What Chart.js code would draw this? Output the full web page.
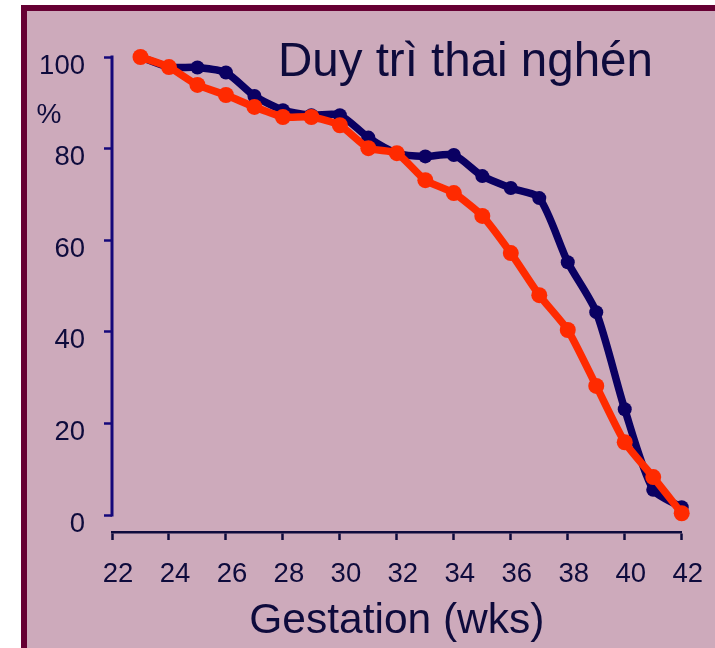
<!DOCTYPE html>
<html>
<head>
<meta charset="utf-8">
<title>Duy trì thai nghén</title>
<script src="https://cdn.jsdelivr.net/npm/chart.js@4.4.0/dist/chart.umd.min.js"></script>
<style>
	html, body { margin: 0; padding: 0; background: #fff; }
</style>
</head>
<body>
<canvas id="myChart" width="715" height="648"></canvas>
<script>
// dữ liệu (tuần thai, % còn mang thai)
const weeks = [23, 24, 25, 26, 27, 28, 29, 30, 31, 32, 33, 34, 35, 36, 37, 38, 39, 40, 41, 42];
const blueValues = [100, 97.8, 97.7, 96.6, 91.5, 88.4, 87.3, 87.3, 82.4, 79.0, 78.3, 78.6, 74.0, 71.4, 69.2, 55.2, 44.3, 23.1, 5.5, 1.7];
const redValues = [100, 97.8, 93.9, 91.7, 89.1, 86.9, 86.9, 85.1, 80.1, 79.0, 73.1, 70.3, 65.3, 57.2, 48.0, 40.4, 28.2, 15.9, 8.3, 0.4];
const xTicks = [22, 24, 26, 28, 30, 32, 34, 36, 38, 40, 42];
const yTicks = [0, 20, 40, 60, 80, 100];

const titleText = 'Duy trì thai nghén';
const yLabel = '%';
const xLabel = 'Gestation (wks)';

const textColor = '#0e0b3c';
const font = 'Liberation Sans, Arial, sans-serif';

// nền hồng với viền đỏ sẫm, trục y, tiêu đề
const decor = {
	id: 'decor',
	beforeDraw(chart) {
		const c = chart.ctx;
		c.save();
		c.fillStyle = '#ffffff';
		c.fillRect(0, 0, chart.width, chart.height);
		c.fillStyle = '#660033';
		c.fillRect(21, 5, chart.width, chart.height);
		c.fillStyle = '#cdaabb';
		c.fillRect(27, 11, chart.width, chart.height);
		c.restore();
	},
	beforeDatasetsDraw(chart) {
		const c = chart.ctx;
		const y = chart.scales.y;
		c.save();
		c.strokeStyle = '#14087a';
		c.lineWidth = 3;
		c.beginPath();
		c.moveTo(chart.chartArea.left, y.getPixelForValue(100) - 1.5);
		c.lineTo(chart.chartArea.left, y.getPixelForValue(0) + 1.5);
		c.stroke();
		c.restore();
	},
	afterDraw(chart) {
		const c = chart.ctx;
		c.save();
		c.fillStyle = textColor;
		c.font = '47.5px ' + font;
		c.textAlign = 'left';
		c.textBaseline = 'alphabetic';
		c.fillText(titleText, 278, 76);
		c.font = '28px ' + font;
		c.textAlign = 'center';
		c.textBaseline = 'middle';
		c.fillText(yLabel, 49, 115);
		c.restore();
	}
};

var ctx = document.getElementById('myChart').getContext('2d');
var chart = new Chart(ctx, {
	type: 'line',
	data: {
		labels: weeks,
		datasets: [{
			label: 'A',
			data: weeks.map((w, i) => ({ x: w, y: blueValues[i] })),
			borderColor: '#0a0062',
			backgroundColor: '#0a0062',
			borderWidth: 7.5,
			pointRadius: 7,
			pointBorderWidth: 0,
			tension: 0.25,
			clip: false,
			order: 2
		}, {
			label: 'B',
			data: weeks.map((w, i) => ({ x: w, y: redValues[i] })),
			borderColor: '#ff2a00',
			backgroundColor: '#ff2a00',
			borderWidth: 7.5,
			pointRadius: 8,
			pointBorderWidth: 0,
			tension: 0.2,
			clip: false,
			order: 1
		}]
	},
	options: {
		responsive: false,
		animation: false,
		layout: { padding: { top: 57, right: 32, left: 0, bottom: 0 } },
		plugins: {
			legend: { display: false },
			tooltip: { enabled: false }
		},
		scales: {
			x: {
				type: 'linear',
				min: 22,
				max: 42,
				afterFit: s => { s.height = 116; },
				afterBuildTicks: s => { s.ticks = xTicks.map(v => ({ value: v })); },
				border: { display: true, color: '#0e0b3c', width: 2.5 },
				grid: { display: true, drawOnChartArea: false, drawTicks: true, tickLength: 8, tickColor: '#0e0b3c', tickWidth: 2.5 },
				ticks: { color: textColor, font: { family: font, size: 27.5 }, padding: 18, labelOffset: 6, maxRotation: 0 },
				title: { display: true, text: xLabel, color: textColor, font: { family: font, size: 42.5 }, padding: { top: 0, bottom: 1 } }
			},
			y: {
				min: -3.7,
				max: 100,
				afterFit: s => { s.width = 112; },
				afterBuildTicks: s => { s.ticks = yTicks.map(v => ({ value: v })); },
				border: { display: false },
				grid: { display: true, drawOnChartArea: false, drawTicks: true, tickLength: 8, tickColor: '#14087a', tickWidth: 2.5 },
				ticks: { color: textColor, font: { family: font, size: 27.5 }, padding: 19, labelOffset: 9 }
			}
		}
	},
	plugins: [decor]
});
</script>
</body>
</html>
